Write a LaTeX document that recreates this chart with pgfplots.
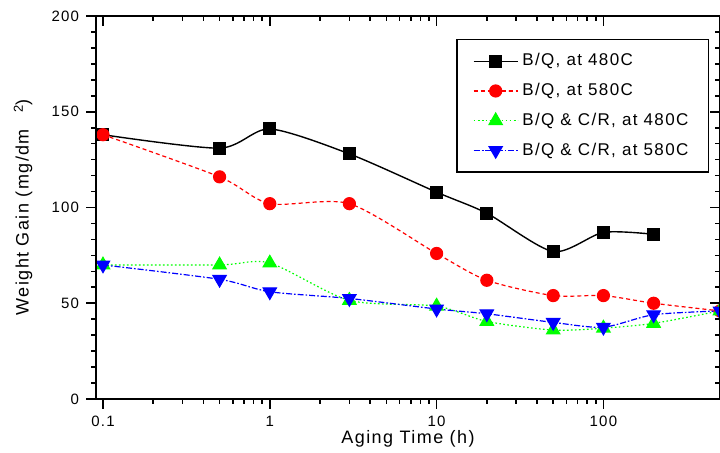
\documentclass[border=0pt]{standalone}
\usepackage{pgfplots}
\pgfplotsset{compat=1.18}
\usepackage{fontspec}
\setmainfont{Liberation Sans}[LetterSpace=8]

\begin{document}
\begin{tikzpicture}
\begin{axis}[
    name=main,
    scale only axis,
    width=312pt, height=191.5pt,
    xmode=log,
    xmin=0.0908, xmax=500,
    ymin=0, ymax=200,
    xtick={0.1,1,10,100},
    xticklabels={0.1,1,10,100},
    ytick={0,50,100,150,200},
    minor y tick num=5,
    tick align=outside,
    xtick pos=left, ytick pos=left,
    major tick length=5pt, minor tick length=2.5pt,
    every tick/.style={black, line width=0.8pt},
    axis line style={line width=0.9pt},
    tick label style={font=\fontsize{7.5}{9}\selectfont},
    /pgf/number format/assume math mode=true,
    xlabel={Aging Time (h)},
    ylabel={Weight Gain (mg/dm\hspace{0.9em}\raisebox{0.6ex}{\fontsize{6.5}{8}\selectfont 2})},
    label style={font=\fontsize{9}{11}\selectfont},
    xlabel style={at={(axis description cs:0.5,-0.104)}, anchor=center},
    ylabel style={at={(axis description cs:-0.117,0.5)}, anchor=center},
    legend style={at={(axis description cs:1,1)}, xshift=-5.5pt, yshift=-11.5pt,
        anchor=north east, draw=black, line width=0.6pt,
        font=\fontsize{8.5}{10}\selectfont, cells={anchor=west},
        row sep=3.2pt, inner xsep=8pt, inner ysep=5pt},
    legend image code/.code={\draw[mark repeat=2,mark phase=2] plot coordinates {(0pt,0pt) (11pt,0pt) (22pt,0pt)};},
]
\coordinate (sw) at (rel axis cs:0,0);
\coordinate (ne) at (rel axis cs:1,1);

\addplot[black, line width=0.7pt, smooth, tension=0.45, mark=square*, mark size=2.9pt, mark options={solid}]
coordinates {(0.1,138) (0.5,131) (1,141) (3,128) (10,108) (20,97) (50,77) (100,87) (200,86)};
\addlegendentry{B/Q, at 480C}

\addplot[red, line width=0.6pt, smooth, tension=0.45, dash pattern=on 2pt off 1.5pt, mark=*, mark size=3pt, mark options={solid}]
coordinates {(0.1,138) (0.5,116) (1,102) (3,102) (10,76) (20,62) (50,54) (100,54) (200,50) (500,46)};
\addlegendentry{B/Q, at 580C}

\addplot[green, line width=0.6pt, smooth, tension=0.45, dash pattern=on 0.8pt off 1.2pt, mark=triangle*, mark size=3.8pt, mark options={solid}]
coordinates {(0.1,70) (0.5,70) (1,71) (3,51.5) (10,48.5) (20,40.5) (50,36) (100,37) (200,39.5) (500,46)};
\addlegendentry{B/Q \& C/R, at 480C}

\addplot[blue, line width=0.6pt, smooth, tension=0.45, dash pattern=on 3pt off 1pt on 0.8pt off 1pt, mark=triangle*, mark size=3.8pt, mark options={solid, rotate=180}]
coordinates {(0.1,70) (0.5,62.5) (1,56) (3,52.5) (10,47) (20,44.5) (50,40) (100,37.5) (200,44) (500,46)};
\addlegendentry{B/Q \& C/R, at 580C}
\end{axis}

\begin{axis}[
    scale only axis,
    width=312pt, height=191.5pt,
    xmode=log,
    xmin=0.0908, xmax=500,
    ymin=0, ymax=200,
    xtick={0.1,1,10,100},
    ytick={0,50,100,150,200},
    minor y tick num=5,
    tick align=inside,
    xtick pos=right, ytick pos=right,
    xticklabels={}, yticklabels={},
    major tick length=5pt, minor tick length=2.5pt,
    every tick/.style={black, line width=0.8pt},
    axis line style={line width=0.9pt},
]
\end{axis}

\pgfresetboundingbox
\useasboundingbox ([shift={(-48pt,-27pt)}]sw) rectangle ([shift={(0pt,8pt)}]ne);
\end{tikzpicture}
\end{document}
